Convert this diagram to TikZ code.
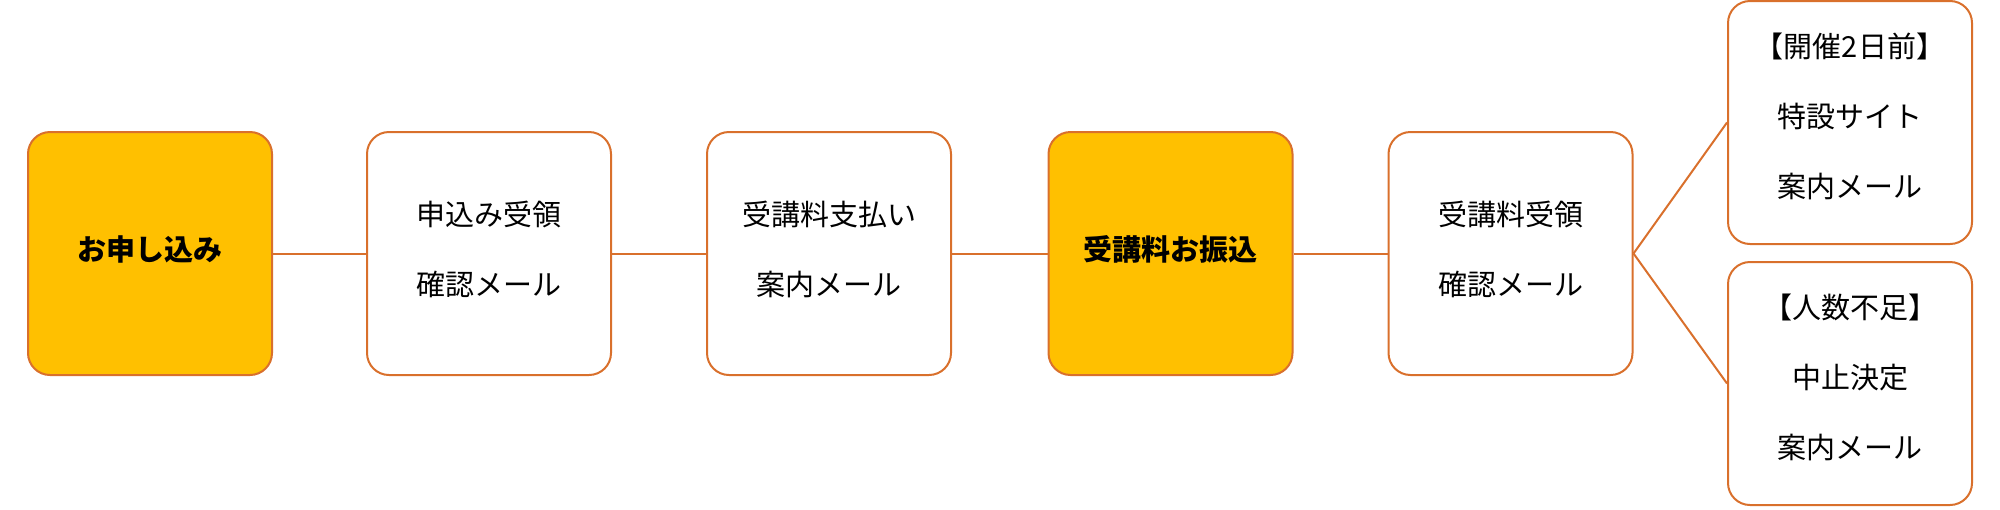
\documentclass[tikz,border=0pt]{standalone}
\usepackage{fontspec}
\setmainfont{Noto Sans CJK JP}
\definecolor{edge}{HTML}{D9702C}
\definecolor{gold}{HTML}{FFC000}
\tikzset{
  box/.style={draw=edge, line width=1pt, rounded corners=11pt, minimum width=122pt, minimum height=121.5pt, inner sep=0pt},
  hot/.style={box, fill=gold},
  txt/.style={align=center, inner sep=0pt, yshift=2.2pt, font=\fontsize{14.5pt}{35pt}\selectfont},
  hottxt/.style={txt, font=\fontsize{14.5pt}{35pt}\selectfont\bfseries},
  link/.style={draw=edge, line width=1pt}
}
\begin{document}
\begin{tikzpicture}[x=0.5pt,y=-0.5pt]
\useasboundingbox (0,0) rectangle (2000,509);
\node[hot] (b1) at (150,253.5) {};
\node[box] (b2) at (489,253.5) {};
\node[box] (b3) at (829,253.5) {};
\node[hot] (b4) at (1170.5,253.5) {};
\node[box] (b5) at (1510.5,253.5) {};
\node[box] (b6) at (1850,122.5) {};
\node[box] (b7) at (1850,383.5) {};
\node[hottxt] (t1) at (b1.center) {お申し込み};
\node[txt] (t2) at (b2.center) {申込み受領\\確認メール};
\node[txt] (t3) at (b3.center) {受講料支払い\\案内メール};
\node[hottxt] (t4) at (b4.center) {受講料お振込};
\node[txt] (t5) at (b5.center) {受講料受領\\確認メール};
\node[txt, yshift=1pt] (t6) at (b6.center) {【開催2日前】\\特設サイト\\案内メール};
\node[txt, yshift=1pt] (t7) at (b7.center) {【人数不足】\\中止決定\\案内メール};
\draw[link] (b1) -- (b2);
\draw[link] (b2) -- (b3);
\draw[link] (b3) -- (b4);
\draw[link] (b4) -- (b5);
\draw[link] (b5.east) -- (b6.west);
\draw[link] (b5.east) -- (b7.west);
\end{tikzpicture}
\end{document}
